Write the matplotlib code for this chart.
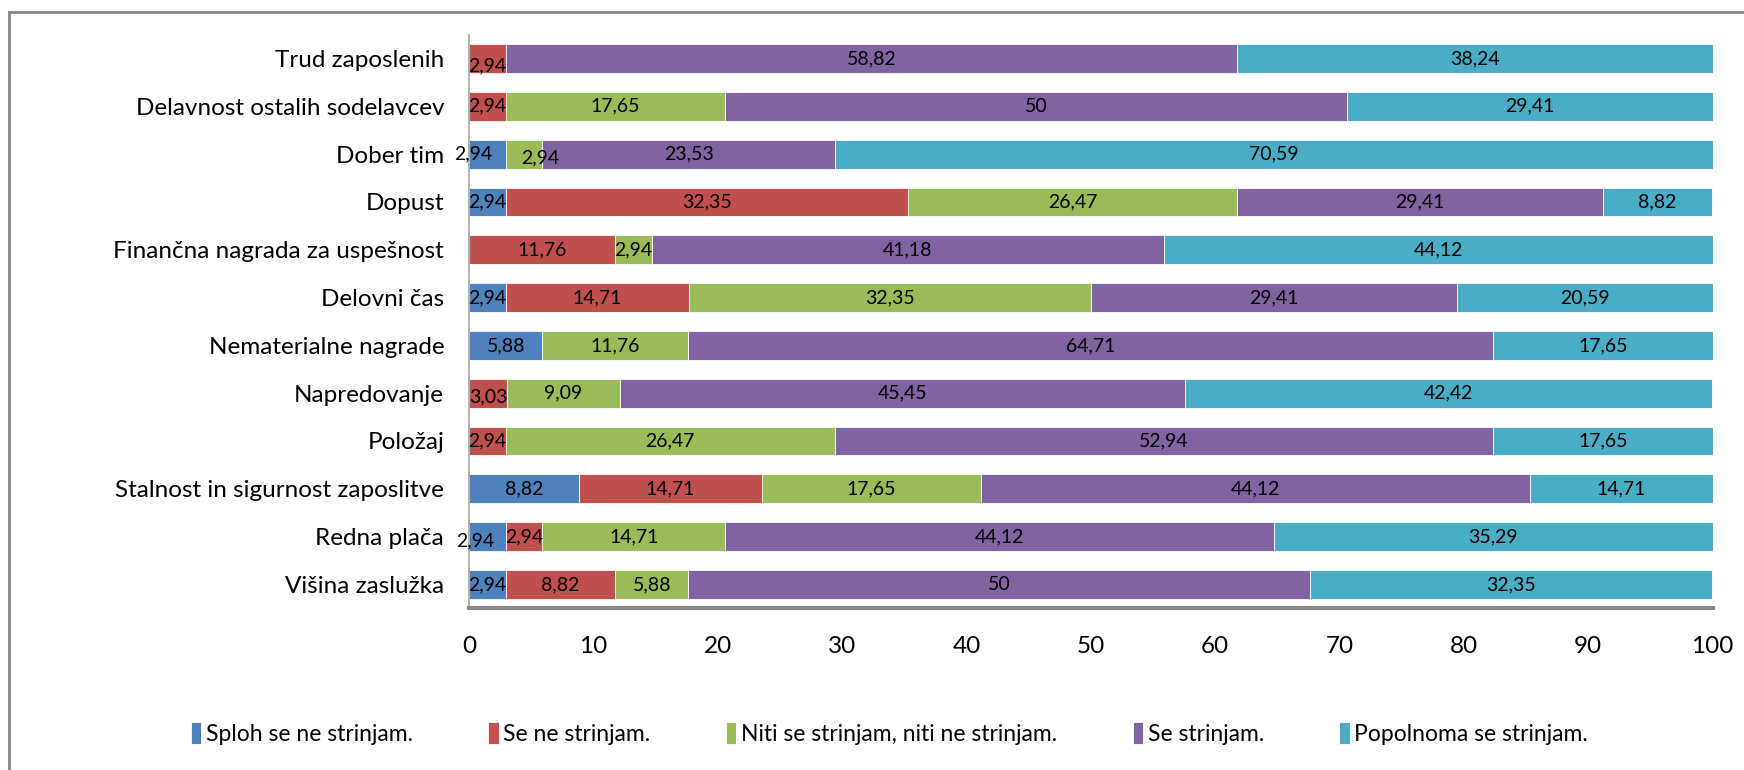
import numpy as np
import matplotlib.pyplot as plt
from matplotlib.lines import Line2D

plt.rcParams['font.family'] = ['Lato', 'DejaVu Sans']

# categories, top to bottom as in the picture
categories = ['Trud zaposlenih', 'Delavnost ostalih sodelavcev', 'Dober tim', 'Dopust',
              'Finančna nagrada za uspešnost', 'Delovni čas', 'Nematerialne nagrade',
              'Napredovanje', 'Položaj', 'Stalnost in sigurnost zaposlitve',
              'Redna plača', 'Višina zaslužka']

series_names = ['Sploh se ne strinjam.', 'Se ne strinjam.',
                'Niti se strinjam, niti ne strinjam.', 'Se strinjam.',
                'Popolnoma se strinjam.']

sploh = [0, 0, 2.94, 2.94, 0, 2.94, 5.88, 0, 0, 8.82, 2.94, 2.94]
ne = [2.94, 2.94, 0, 32.35, 11.76, 14.71, 0, 3.03, 2.94, 14.71, 2.94, 8.82]
niti = [0, 17.65, 2.94, 26.47, 2.94, 32.35, 11.76, 9.09, 26.47, 17.65, 14.71, 5.88]
se = [58.82, 50, 23.53, 29.41, 41.18, 29.41, 64.71, 45.45, 52.94, 44.12, 44.12, 50]
popolnoma = [38.24, 29.41, 70.59, 8.82, 44.12, 20.59, 17.65, 42.42, 17.65, 14.71, 35.29, 32.35]

colors = ['#4F81BD', '#C0504D', '#9BBB59', '#8064A2', '#4BACC6']

# Excel nudged a few overlapping labels: (series, category) -> offset in points
label_nudge = {(1, 0): (0, -5), (0, 2): (-10, 0), (2, 2): (12, -3),
               (1, 7): (0, -3), (0, 10): (-9, -3)}

data = np.array([sploh, ne, niti, se, popolnoma])
y = np.arange(len(categories))

fig = plt.figure(figsize=(17.44, 7.70), dpi=100)
ax = fig.add_axes([0.269, 0.210, 0.713, 0.745])

left = np.zeros(len(categories))
for i, (vals, name, c) in enumerate(zip(data, series_names, colors)):
    ax.barh(y, vals, left=left, height=0.6, color=c, label=name,
            edgecolor='white', linewidth=0.6)
    for j, v in enumerate(vals):
        if v <= 0:
            continue
        dx, dy = label_nudge.get((i, j), (0, 0))
        ax.annotate(('%g' % v).replace('.', ','), (left[j] + v / 2, y[j]),
                    xytext=(dx, dy), textcoords='offset points',
                    ha='center', va='center', fontsize=14, color='black')
    left += vals

ax.set_xlim(0, 100)
ax.set_ylim(len(categories) - 0.5, -0.5)
ax.set_xticks(np.arange(0, 101, 10))
ax.set_yticks(y)
ax.set_yticklabels(categories)
ax.tick_params(axis='x', length=0, pad=20, labelsize=17.5)
ax.tick_params(axis='y', length=0, pad=18, labelsize=17.5)

for s in ['top', 'right']:
    ax.spines[s].set_visible(False)
ax.spines['left'].set_color('#A6A6A6')
ax.spines['left'].set_linewidth(1.2)
ax.spines['bottom'].set_color('#868686')
ax.spines['bottom'].set_linewidth(3)

ax.legend(loc='center', bbox_to_anchor=(0.51, 0.047), bbox_transform=fig.transFigure,
          ncol=5, frameon=False, fontsize=16.5, handlelength=0.45, handleheight=1.1,
          handletextpad=0.2, columnspacing=3.3)

# outer chart frame
fig.add_artist(Line2D([0.005, 1], [0.984, 0.984], color='#868686', lw=2))
fig.add_artist(Line2D([0.005, 0.005], [0, 0.984], color='#868686', lw=2))

fig.savefig('out.png', dpi=100)
